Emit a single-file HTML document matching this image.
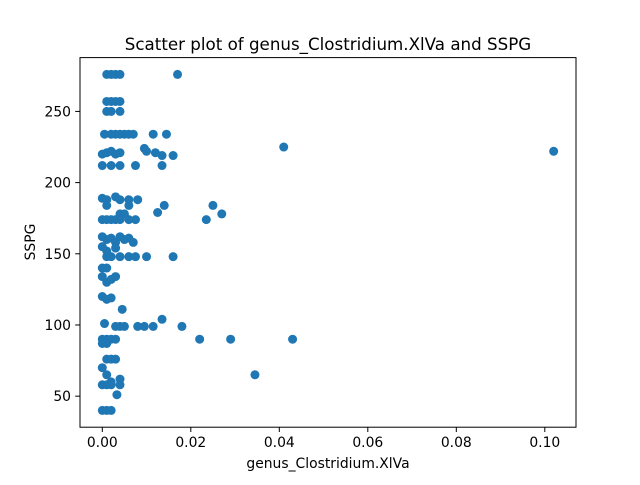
<!DOCTYPE html>
<html><head><meta charset="utf-8"><style>
body{margin:0;background:#fff}
svg text{font-family:"DejaVu Sans","Liberation Sans",sans-serif;fill:#000}
</style></head><body>
<svg id="chart" width="640" height="480" viewBox="0 0 640 480">
<rect width="640" height="480" fill="#fff"/>
<text x="328" y="50" font-size="16.7" text-anchor="middle">Scatter plot of genus_Clostridium.XlVa and SSPG</text>
<g id="marks"></g>
<rect x="80" y="57.6" width="496" height="369.6" fill="none" stroke="#000" stroke-width="1"/>
<g id="xt"></g><g id="yt"></g>
<text x="328" y="468" font-size="13.9" text-anchor="middle">genus_Clostridium.XlVa</text>
<text transform="translate(35,242) rotate(-90)" font-size="13.9" text-anchor="middle">SSPG</text>
</svg>
<script>
const xVals=[0.001,0.002,0.003,0.004,0.017, 0.001,0.002,0.003,0.004, 0.001,0.002,0.004,
0.0005,0.002,0.003,0.004,0.005,0.006,0.007,0.0115,0.0145,
0.000,0.001,0.002,0.003,0.004,0.0095,0.010,0.012,0.0135,0.016,0.041,0.102,
0.000,0.002,0.004,0.0075,0.0135,
0.000,0.001,0.003,0.004,0.006,0.008,
0.001,0.006,0.014,0.025,
0.004,0.005,0.0125,0.027,
0.000,0.001,0.002,0.003,0.004,0.006,0.0075,0.0235,
0.000,0.001,0.002,0.003,0.004,0.005,0.006,0.007,
0.000,0.001,0.003,
0.001,0.002,0.004,0.006,0.0075,0.010,0.016,
0.000,0.001,
0.000,0.001,0.002,0.003,
0.000,0.001,0.002,
0.0045,0.0005,
0.003,0.004,0.005,0.008,0.0095,0.0115,0.018,0.0135,
0.000,0.001,0.002,0.003,0.022,0.029,0.043,
0.000,0.001,
0.001,0.002,0.003,
0.000,0.001,0.002,0.004,
0.000,0.001,0.002,0.004,0.0345,0.0033,
0.000,0.001,0.002];
const yVals=[276,276,276,276,276, 257,257,257,257, 250,250,250,
234,234,234,234,234,234,234,234,234,
220,221,222,220,221,224,222,221,219,219,225,222,
212,212,212,212,212,
189,188,190,188,188,188,
184,184,184,184,
178,178,179,178,
174,174,174,174,174,174,174,174,
162,160,161,158,162,160,161,158,
155,152,154,
148,148,148,148,148,148,148,
140,140,
134,130,132,134,
120,118,119,
111,101,
99,99,99,99,99,99,99,104,
90,90,90,90,90,90,90,
87,87,
76,76,76,
70,65,60,62,
58,58,58,58,65,51,
40,40,40];
const xTicks=[0,0.02,0.04,0.06,0.08,0.10];
const xTickLabels=["0.00","0.02","0.04","0.06","0.08","0.10"];
const yTicks=[50,100,150,200,250];
const yTickLabels=["50","100","150","200","250"];
const X0=-0.00504,X1=0.10705,Y0=28.2,Y1=287.8;
const sx=v=>80+(v-X0)/(X1-X0)*496;
const sy=v=>427.2-(v-Y0)/(Y1-Y0)*369.6;
const NS="http://www.w3.org/2000/svg";
const marks=document.getElementById('marks');
for(let i=0;i<xVals.length;i++){
 const c=document.createElementNS(NS,'circle');
 c.setAttribute('cx',sx(xVals[i]));c.setAttribute('cy',sy(yVals[i]));c.setAttribute('r',4.5);c.setAttribute('fill','#1f77b4');
 
 
 marks.appendChild(c);
}
const xt=document.getElementById('xt');
xTicks.forEach((v,i)=>{
 const l=document.createElementNS(NS,'line');
 l.setAttribute('x1',sx(v));l.setAttribute('x2',sx(v));l.setAttribute('y1',427.2);l.setAttribute('y2',432);l.setAttribute('stroke','#000');
 
 
 xt.appendChild(l);
 const t=document.createElementNS(NS,'text');
 t.setAttribute('x',sx(v));t.setAttribute('y',447);t.setAttribute('font-size','13.9');t.setAttribute('text-anchor','middle');
 t.textContent=xTickLabels[i];
 
 
 xt.appendChild(t);
});
const yt=document.getElementById('yt');
yTicks.forEach((v,i)=>{
 const l=document.createElementNS(NS,'line');
 l.setAttribute('x1',75.2);l.setAttribute('x2',80);l.setAttribute('y1',sy(v));l.setAttribute('y2',sy(v));l.setAttribute('stroke','#000');
 
 
 yt.appendChild(l);
 const t=document.createElementNS(NS,'text');
 t.setAttribute('x',71);t.setAttribute('y',sy(v)+5);t.setAttribute('font-size','13.9');t.setAttribute('text-anchor','end');
 t.textContent=yTickLabels[i];
 
 
 yt.appendChild(t);
});
</script>
</body></html>
